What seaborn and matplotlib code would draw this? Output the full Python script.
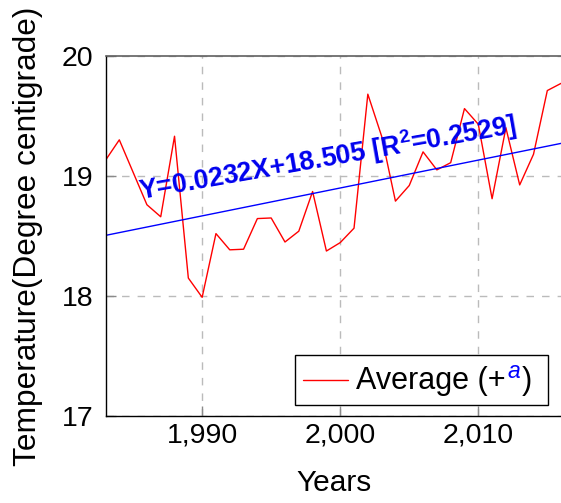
import numpy as np
import pandas as pd
import seaborn as sns
import matplotlib
matplotlib.use("Agg")
import matplotlib.pyplot as plt
from matplotlib.ticker import FuncFormatter
from matplotlib.offsetbox import AnchoredOffsetbox, HPacker, TextArea, DrawingArea
from matplotlib.lines import Line2D

# Annual mean temperature series
years = list(range(1983, 2017))
temperature = [19.13, 19.30, 19.03, 18.76, 18.66, 19.33, 18.15, 17.99, 18.52, 18.385,
               18.39, 18.645, 18.65, 18.45, 18.54, 18.87, 18.375, 18.445, 18.565, 19.68,
               19.33, 18.79, 18.92, 19.20, 19.05, 19.11, 19.56, 19.43, 18.81, 19.40,
               18.925, 19.18, 19.71, 19.77]

# Linear trend: Y = slope * X + intercept, with X counted in years from 1983
trend_slope = 0.0232
trend_intercept = 18.505
trend_r2 = 0.2529

x_ticks = [1990, 2000, 2010]
y_ticks = [17, 18, 19, 20]

sns.set_style("ticks")
plt.rcParams["font.family"] = ["Liberation Sans", "DejaVu Sans"]
plt.rcParams["mathtext.fontset"] = "custom"
plt.rcParams["mathtext.rm"] = "Liberation Sans"
plt.rcParams["mathtext.it"] = "Liberation Sans:italic"
plt.rcParams["mathtext.bf"] = "Liberation Sans:bold"
plt.rcParams["text.color"] = "black"
plt.rcParams["axes.labelcolor"] = "black"
plt.rcParams["xtick.labelcolor"] = "black"
plt.rcParams["ytick.labelcolor"] = "black"

df = pd.DataFrame({"Year": years, "Temperature": temperature})
df["Trend"] = trend_intercept + trend_slope * (df["Year"] - years[0])

fig = plt.figure(figsize=(5.61, 5.03), dpi=100)
ax = fig.add_axes([105.5 / 561, 86.7 / 503, 457 / 561, 360.6 / 503])

sns.lineplot(data=df, x="Year", y="Temperature", color="red", linewidth=1.0, ax=ax, legend=False)
sns.lineplot(data=df, x="Year", y="Trend", color="blue", linewidth=1.0, ax=ax, legend=False)

ax.set_xlim(1983, 2016.1)
ax.set_ylim(17, 20)
ax.set_xticks(x_ticks)
ax.set_yticks(y_ticks)
ax.xaxis.set_major_formatter(FuncFormatter(lambda v, p: f"{v:,.0f}"))
ax.yaxis.set_major_formatter(FuncFormatter(lambda v, p: f"{v:.0f}"))

ax.grid(True, color="#bbbbbb", linewidth=1.0, linestyle=(0, (5.4, 5.8)))
ax.set_axisbelow(True)

ax.tick_params(axis="both", direction="in", length=7.5, width=1.0, color="#8a8a8a",
               labelsize=20.5, labelcolor="black")
ax.tick_params(axis="x", pad=4.5)
ax.tick_params(axis="y", pad=9)

for side in ("left", "bottom"):
    ax.spines[side].set_color("black")
    ax.spines[side].set_linewidth(1.0)
ax.spines["top"].set_color("#606060")
ax.spines["top"].set_linewidth(1.2)
ax.spines["right"].set_visible(False)

ax.set_xlabel("Years", fontsize=21.5, color="black")
ax.set_ylabel("Temperature(Degree centigrade)", fontsize=22.8, color="black")
ax.xaxis.set_label_coords(0.5, -0.1475)
ax.yaxis.set_label_coords(-0.137, 0.5)

# Trend equation written along the fitted line
ax.text(1999.1, 19.15,
        f"Y={trend_slope}X+{trend_intercept} [R$^{{\\mathbf{{2}}}}$={trend_r2}]",
        color="#0000ee", fontsize=19.2, fontweight="bold",
        rotation=10, rotation_mode="anchor", ha="center", va="center")

# Legend entry with a blue superscript marker
lead = 3.6
line_len = 32.4
line_box = DrawingArea(lead + line_len, 31, 0, 0)
line_box.add_artist(Line2D([lead, lead + line_len], [15.5, 15.5], color="red", linewidth=1.0))
txt_main = TextArea("Average (+", textprops=dict(fontsize=22, color="black"))
txt_sup = TextArea("$^{\\mathit{a}}$", textprops=dict(fontsize=23.5, color="blue"))
txt_end = TextArea(")", textprops=dict(fontsize=22, color="black"))
label_pack = HPacker(children=[txt_main, txt_sup, txt_end], align="baseline", pad=0, sep=0.5)
spacer = DrawingArea(3.2, 1, 0, 0)
entry = HPacker(children=[line_box, label_pack, spacer], align="center", pad=0, sep=5.8)
legend_box = AnchoredOffsetbox(loc="lower right", child=entry, pad=0.25, borderpad=0,
                               frameon=True, bbox_to_anchor=(0.968, 0.031),
                               bbox_transform=ax.transAxes)
legend_box.patch.set_edgecolor("black")
legend_box.patch.set_linewidth(1.0)
legend_box.patch.set_boxstyle("square", pad=0)
ax.add_artist(legend_box)

fig.savefig("out.png", dpi=100)
